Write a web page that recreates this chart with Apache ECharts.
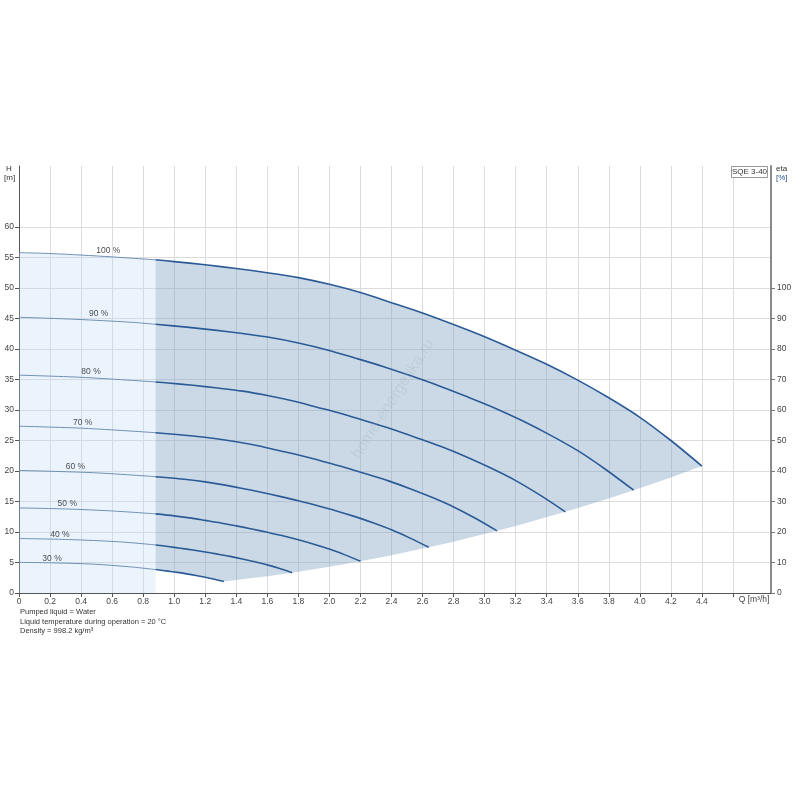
<!DOCTYPE html>
<html>
<head>
<meta charset="utf-8">
<script src="https://cdn.jsdelivr.net/npm/echarts@6/dist/echarts.min.js"></script>
<style>html,body{margin:0;padding:0;background:#fff}#c{width:800px;height:800px}</style>
</head>
<body>
<div id="c"></div>
<script>
// ---- data (Q [m³/h], H [m]) ----
const speedLabels = ['100 %', '90 %', '80 %', '70 %', '60 %', '50 %', '40 %', '30 %'];
const minFlowQ = 0.88;
const curve100 = [[0,55.8],[0.2,55.65],[0.4,55.4],[0.6,55.1],[0.88,54.62],[1.0,54.33],[1.2,53.8],[1.4,53.2],[1.6,52.5],[1.8,51.7],[2.0,50.6],[2.2,49.25],[2.4,47.6],[2.6,45.9],[2.8,44.0],[3.0,42.0],[3.2,39.8],[3.4,37.5],[3.6,34.9],[3.8,32.0],[4.0,28.8],[4.2,25.0],[4.4,20.8]];
const curve90 = [[0,45.2],[0.36,44.87],[0.72,44.39],[0.88,44.05],[1.08,43.58],[1.26,43.09],[1.44,42.53],[1.62,41.88],[1.8,40.99],[1.98,39.89],[2.16,38.56],[2.34,37.18],[2.52,35.64],[2.7,34.02],[2.88,32.24],[3.06,30.38],[3.24,28.27],[3.42,25.92],[3.6,23.33],[3.78,20.25],[3.96,16.85]];
const curve80 = [[0,35.71],[0.4,35.36],[0.88,34.6],[0.96,34.43],[1.12,34.05],[1.28,33.6],[1.44,33.09],[1.6,32.38],[1.76,31.52],[1.92,30.46],[2.08,29.38],[2.24,28.16],[2.4,26.88],[2.56,25.47],[2.72,24.0],[2.88,22.34],[3.04,20.48],[3.2,18.43],[3.36,16.0],[3.52,13.31]];
const curve70 = [[0,27.34],[0.42,27.0],[0.88,26.28],[1.12,25.73],[1.26,25.33],[1.4,24.79],[1.54,24.13],[1.68,23.32],[1.82,22.49],[1.96,21.56],[2.1,20.58],[2.24,19.5],[2.38,18.38],[2.52,17.1],[2.66,15.68],[2.8,14.11],[2.94,12.25],[3.08,10.19]];
const curve60 = [[0,20.09],[0.48,19.72],[0.88,19.07],[1.08,18.61],[1.2,18.22],[1.32,17.73],[1.44,17.14],[1.56,16.52],[1.68,15.84],[1.8,15.12],[1.92,14.33],[2.04,13.5],[2.16,12.56],[2.28,11.52],[2.4,10.37],[2.52,9.0],[2.64,7.49]];
const curve50 = [[0,13.95],[0.3,13.78],[0.6,13.45],[0.88,12.97],[1.0,12.65],[1.1,12.31],[1.2,11.9],[1.3,11.48],[1.4,11.0],[1.5,10.5],[1.6,9.95],[1.7,9.38],[1.8,8.73],[1.9,8.0],[2.0,7.2],[2.1,6.25],[2.2,5.2]];
const curve40 = [[0,8.93],[0.32,8.76],[0.64,8.4],[0.88,7.88],[0.96,7.62],[1.04,7.34],[1.12,7.04],[1.2,6.72],[1.28,6.37],[1.36,6.0],[1.44,5.58],[1.52,5.12],[1.6,4.61],[1.68,4.0],[1.76,3.33]];
const curve30 = [[0,5.02],[0.24,4.93],[0.48,4.73],[0.72,4.28],[0.88,3.84],[0.96,3.58],[1.02,3.38],[1.08,3.14],[1.14,2.88],[1.2,2.59],[1.26,2.25],[1.32,1.87]];
const lowerEdge = [[1.32,1.87],[1.6,2.75],[1.76,3.33],[2.0,4.3],[2.2,5.2],[2.4,6.19],[2.64,7.49],[2.8,8.42],[3.08,10.19],[3.2,11.0],[3.52,13.31],[3.6,13.92],[3.8,15.51],[3.96,16.85],[4.2,18.95],[4.4,20.8]];
const labelPos = [[0.575,56.2],[0.513,45.8],[0.464,36.3],[0.41,27.9],[0.363,20.7],[0.311,14.6],[0.264,9.6],[0.213,5.7]];
const xTicks = [0,0.2,0.4,0.6,0.8,1.0,1.2,1.4,1.6,1.8,2.0,2.2,2.4,2.6,2.8,3.0,3.2,3.4,3.6,3.8,4.0,4.2,4.4,4.6,4.8];
const xTickMaxLabel = 4.4;
const hTicks = [0,5,10,15,20,25,30,35,40,45,50,55,60];
const etaTicks = [0,10,20,30,40,50,60,70,80,90,100];
const notes = ['Pumped liquid = Water', 'Liquid temperature during operation = 20 °C', 'Density = 998.2 kg/m³'];

const curves = [curve100, curve90, curve80, curve70, curve60, curve50, curve40, curve30];

const chart = echarts.init(document.getElementById('c'), null, {renderer: 'canvas'});

const thickColor = '#2b5b96';
const thinColor = '#6f8fb4';
const FONT = 'Liberation Sans, Arial, sans-serif';

function polySeries(points, fill, z) {
  return {
    type: 'custom',
    coordinateSystem: 'cartesian2d',
    data: [[0, 0]],
    silent: true,
    z: z,
    clip: true,
    renderItem: function (params, api) {
      return {
        type: 'polygon',
        shape: {points: points.map(p => api.coord(p))},
        style: {fill: fill, stroke: null}
      };
    }
  };
}

const lightPts = [[0, 0]].concat(curve100.filter(p => p[0] <= minFlowQ)).concat([[minFlowQ, 0]]);
const darkPts = curve100.filter(p => p[0] >= minFlowQ)
  .concat(lowerEdge.slice().reverse())
  .concat(curve30.filter(p => p[0] >= minFlowQ).reverse());

const series = [
  polySeries(lightPts, 'rgba(188,218,248,0.30)', 1),
  polySeries(darkPts, 'rgba(125,160,195,0.40)', 1)
];

curves.forEach((c, i) => {
  series.push({
    type: 'line', data: c.filter(p => p[0] <= minFlowQ), smooth: 0.3, symbol: 'none',
    lineStyle: {color: thinColor, width: 1}, z: 3, silent: true
  });
  series.push({
    type: 'line', data: c.filter(p => p[0] >= minFlowQ), smooth: 0.3, symbol: 'none',
    lineStyle: {color: thickColor, width: 1.6}, z: 4, silent: true
  });
});

series.push({
  type: 'scatter', symbolSize: 0, silent: true, z: 5,
  data: labelPos.map((p, i) => ({value: p, name: speedLabels[i]})),
  label: {show: true, position: 'inside', formatter: p => p.name, fontSize: 8.5, color: '#222', fontFamily: FONT}
});

const axisLabelStyle = {fontSize: 8.5, color: '#444', fontFamily: FONT};

const option = {
  animation: false,
  grid: {left: 19, right: 29, top: 166, bottom: 207, containLabel: false},
  xAxis: {
    type: 'value', min: 0, max: 4.845, interval: 0.2,
    axisLine: {show: true, lineStyle: {color: '#555', width: 1}},
    axisTick: {show: true, length: 4, customValues: xTicks.slice(0, 24), lineStyle: {color: '#555'}},
    axisLabel: Object.assign({margin: 4, showMaxLabel: false, formatter: v => (v <= xTickMaxLabel + 1e-6 ? (v === 0 ? '0' : v.toFixed(1)) : '')}, axisLabelStyle),
    splitLine: {show: true, lineStyle: {color: '#dcdcdc', width: 1}}
  },
  yAxis: [{
    type: 'value', min: 0, max: 70, interval: 5, position: 'left',
    axisLine: {show: true, lineStyle: {color: '#555', width: 1}},
    axisTick: {show: true, length: 4, customValues: hTicks, lineStyle: {color: '#555'}},
    axisLabel: Object.assign({margin: 5, customValues: hTicks}, axisLabelStyle),
    splitLine: {show: true, lineStyle: {color: '#dcdcdc', width: 1}}
  }, {
    type: 'value', min: 0, max: 140, interval: 10, position: 'right',
    axisLine: {show: true, lineStyle: {color: '#8a8a8a', width: 2}},
    axisTick: {show: true, length: 4, customValues: etaTicks, lineStyle: {color: '#777'}},
    axisLabel: Object.assign({margin: 6, customValues: etaTicks}, axisLabelStyle),
    splitLine: {show: false}
  }],
  graphic: [
    {type: 'text', left: 6, top: 165, style: {text: 'H', fontSize: 8, fill: '#333', fontFamily: FONT}},
    {type: 'text', left: 4, top: 174, style: {text: '[m]', fontSize: 8, fill: '#333', fontFamily: FONT}},
    {type: 'text', left: 776, top: 165, style: {text: 'eta', fontSize: 8, fill: '#333', fontFamily: FONT}},
    {type: 'text', left: 776, top: 174, style: {text: '[%]', fontSize: 8, fill: '#2b4f8a', fontFamily: FONT}},
    {type: 'rect', shape: {x: 731.5, y: 166.5, width: 36, height: 11}, style: {fill: '#fff', stroke: '#999', lineWidth: 1}, z: 10},
    {type: 'text', x: 749.5, y: 172, style: {text: 'SQE 3-40', fontSize: 8, fill: '#333', align: 'center', verticalAlign: 'middle', fontFamily: FONT}, z: 11},
    {type: 'text', x: 754, y: 600, style: {text: 'Q [m³/h]', fontSize: 8.5, fill: '#444', align: 'center', verticalAlign: 'middle', fontFamily: FONT}},
    {type: 'text', left: 20, top: 608, style: {text: notes[0], fontSize: 7.5, fill: '#333', fontFamily: FONT}},
    {type: 'text', left: 20, top: 617.5, style: {text: notes[1], fontSize: 7.5, fill: '#333', fontFamily: FONT}},
    {type: 'text', left: 20, top: 627, style: {text: notes[2], fontSize: 7.5, fill: '#333', fontFamily: FONT}},
    {type: 'text', x: 393, y: 399, rotation: 1.0, style: {text: 'home-energetika.ru', fontSize: 16, fill: 'rgba(150,160,170,0.22)', align: 'center', verticalAlign: 'middle', fontFamily: FONT}, z: 20, silent: true}
  ],
  series: series
};

chart.setOption(option);
</script>
</body>
</html>
